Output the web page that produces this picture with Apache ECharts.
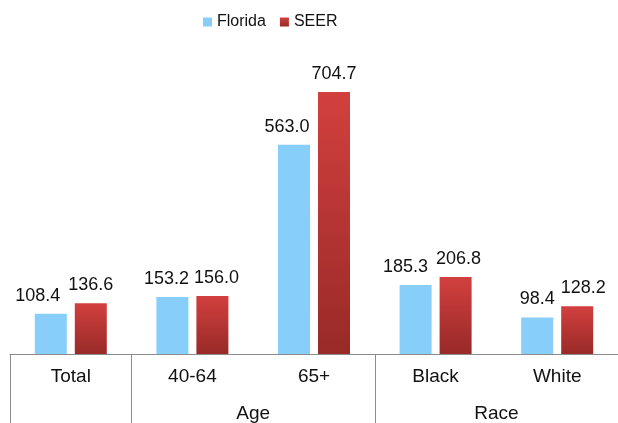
<!DOCTYPE html>
<html>
<head>
<meta charset="utf-8">
<script src="https://cdn.jsdelivr.net/npm/echarts@6/dist/echarts.min.js"></script>
<style>
  html, body { margin: 0; padding: 0; background: #fff; }
  #chart { width: 618px; height: 423px; }
</style>
</head>
<body>
<div id="chart"></div>
<script>
// categories and groups
const categories = ['Total', '40-64', '65+', 'Black', 'White'];
const groups = [
  { name: 'Age', from: 1, to: 2 },
  { name: 'Race', from: 3, to: 4 }
];
// series values
const florida = [108.4, 153.2, 563.0, 185.3, 98.4];
const seer = [136.6, 156.0, 704.7, 206.8, 128.2];

// small horizontal nudges of the value labels (as in the original)
const floridaLabelDx = [-13, -6, -7, -10, 0];
const seerLabelDx = [0, 4, 0, 3, 6];

// boundaries where divider ticks are drawn (start of chart + start of each group)
const dividers = [0].concat(groups.map(g => g.from));
// group label at the middle of its categories
const groupLabels = {};
groups.forEach(g => { groupLabels[(g.from + g.to + 1) / 2] = g.name; });

const font = 'Liberation Sans, Arial, sans-serif';

function withLabels(values, dx) {
  return values.map((v, i) => ({ value: v, label: { offset: [dx[i], 0] } }));
}

const chart = echarts.init(document.getElementById('chart'));
chart.setOption({
  animation: false,
  legend: {
    left: 198,
    top: 9,
    icon: 'rect',
    itemWidth: 9,
    itemHeight: 9,
    itemGap: 14,
    textStyle: { fontFamily: font, fontSize: 16, color: '#111' },
    data: ['Florida', 'SEER']
  },
  grid: { left: 10, right: -2, top: 56.5, bottom: 69 },
  xAxis: [
    {
      type: 'category',
      data: categories,
      axisLine: { lineStyle: { color: '#8c8c8c', width: 1 } },
      axisTick: {
        show: true,
        length: 75,
        lineStyle: { color: '#8c8c8c' },
        interval: function (index) { return dividers.indexOf(index) >= 0; }
      },
      axisLabel: { fontFamily: font, fontSize: 19, color: '#111', margin: 13 }
    },
    {
      type: 'value',
      position: 'bottom',
      min: 0,
      max: categories.length,
      interval: 0.5,
      axisLine: { show: false },
      axisTick: { show: false },
      splitLine: { show: false },
      axisLabel: {
        fontFamily: font, fontSize: 19, color: '#111', margin: 50,
        showMinLabel: false, showMaxLabel: false,
        formatter: function (v) { return groupLabels[v] || ''; }
      }
    }
  ],
  yAxis: {
    type: 'value',
    min: 0,
    max: 800,
    show: false
  },
  series: [
    {
      name: 'Florida',
      type: 'bar',
      barWidth: 32,
      barGap: '25%',
      data: withLabels(florida, floridaLabelDx),
      itemStyle: { color: '#87CEFA' },
      label: {
        show: true, position: 'top', distance: 9,
        fontFamily: font, fontSize: 18, color: '#111',
        formatter: p => p.value.toFixed(1)
      }
    },
    {
      name: 'SEER',
      type: 'bar',
      barWidth: 32,
      data: withLabels(seer, seerLabelDx),
      itemStyle: {
        color: new echarts.graphic.LinearGradient(0, 0, 0, 1, [
          { offset: 0, color: '#D2403E' },
          { offset: 1, color: '#982A28' }
        ])
      },
      label: {
        show: true, position: 'top', distance: 9,
        fontFamily: font, fontSize: 18, color: '#111',
        formatter: p => p.value.toFixed(1)
      }
    }
  ]
});
</script>
</body>
</html>
